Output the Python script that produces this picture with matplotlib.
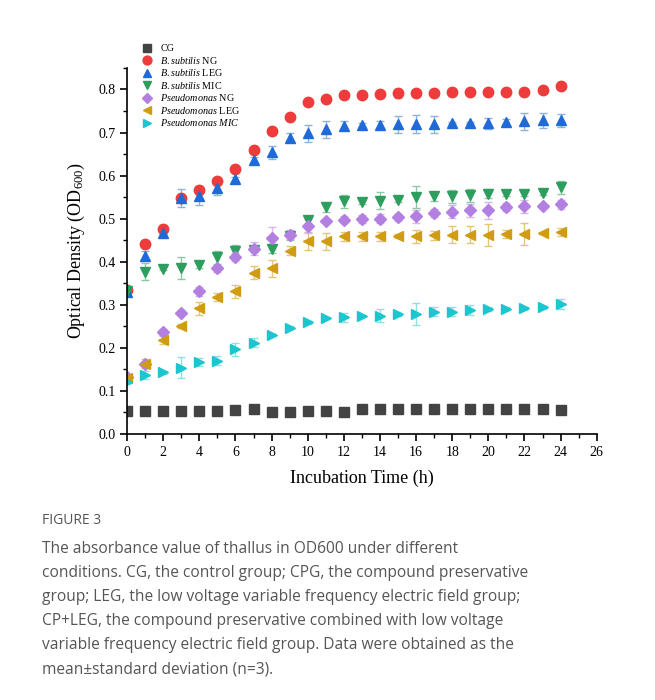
import numpy as np
import matplotlib
matplotlib.use("Agg")
import matplotlib.pyplot as plt
from matplotlib.ticker import MultipleLocator

plt.rcParams['font.family'] = ['Liberation Serif', 'DejaVu Serif']
plt.rcParams['mathtext.fontset'] = 'custom'
plt.rcParams['mathtext.rm'] = 'Liberation Serif'
plt.rcParams['mathtext.it'] = 'Liberation Serif:italic'

hours = np.arange(0, 25)

cg = [0.054, 0.054, 0.054, 0.054, 0.054, 0.054, 0.055, 0.057, 0.050, 0.050,
      0.054, 0.054, 0.051, 0.057, 0.057, 0.057, 0.057, 0.057, 0.057, 0.057,
      0.057, 0.057, 0.057, 0.057, 0.056]
bs_ng = [0.335, 0.440, 0.475, 0.549, 0.566, 0.588, 0.616, 0.660, 0.704, 0.736,
         0.770, 0.777, 0.788, 0.788, 0.789, 0.791, 0.791, 0.791, 0.793, 0.794,
         0.795, 0.795, 0.795, 0.798, 0.809]
bs_leg = [0.330, 0.414, 0.467, 0.548, 0.552, 0.571, 0.592, 0.637, 0.654, 0.688,
          0.698, 0.707, 0.716, 0.717, 0.717, 0.719, 0.720, 0.719, 0.722, 0.722,
          0.721, 0.725, 0.726, 0.728, 0.728]
bs_mic = [0.333, 0.377, 0.384, 0.385, 0.393, 0.410, 0.424, 0.428, 0.430, 0.460,
          0.497, 0.526, 0.540, 0.539, 0.542, 0.544, 0.550, 0.552, 0.552, 0.554,
          0.558, 0.558, 0.558, 0.560, 0.573]
ps_ng = [0.133, 0.162, 0.236, 0.282, 0.331, 0.385, 0.411, 0.430, 0.455, 0.463,
         0.484, 0.495, 0.498, 0.499, 0.500, 0.503, 0.505, 0.513, 0.516, 0.519,
         0.519, 0.527, 0.529, 0.530, 0.533]
ps_leg = [0.130, 0.163, 0.219, 0.250, 0.292, 0.318, 0.331, 0.374, 0.385, 0.426,
          0.447, 0.447, 0.459, 0.459, 0.459, 0.459, 0.459, 0.461, 0.463, 0.463,
          0.462, 0.464, 0.464, 0.467, 0.469]
ps_mic = [0.120, 0.137, 0.143, 0.154, 0.167, 0.170, 0.197, 0.212, 0.230, 0.247,
          0.259, 0.269, 0.271, 0.274, 0.275, 0.278, 0.279, 0.284, 0.284, 0.288,
          0.290, 0.291, 0.292, 0.294, 0.302]

cg_err = [0.002] * 25
bs_ng_err = [0.005, 0.005, 0.010, 0.005, 0.005, 0.005, 0.005, 0.005, 0.005, 0.005,
             0.005, 0.005, 0.005, 0.005, 0.005, 0.010, 0.005, 0.005, 0.005, 0.005,
             0.005, 0.005, 0.005, 0.005, 0.005]
bs_leg_err = [0.005, 0.010, 0.010, 0.020, 0.020, 0.015, 0.005, 0.005, 0.015, 0.010,
              0.020, 0.020, 0.010, 0.005, 0.010, 0.020, 0.020, 0.020, 0.003, 0.003,
              0.012, 0.007, 0.020, 0.018, 0.015]
bs_mic_err = [0.005, 0.020, 0.003, 0.025, 0.008, 0.015, 0.015, 0.005, 0.010, 0.010,
              0.010, 0.010, 0.015, 0.005, 0.020, 0.005, 0.025, 0.010, 0.015, 0.015,
              0.010, 0.005, 0.005, 0.005, 0.015]
ps_ng_err = [0.005, 0.005, 0.008, 0.005, 0.010, 0.008, 0.010, 0.015, 0.025, 0.010,
             0.015, 0.005, 0.008, 0.010, 0.010, 0.008, 0.015, 0.010, 0.015, 0.015,
             0.020, 0.010, 0.015, 0.005, 0.010]
ps_leg_err = [0.005, 0.010, 0.010, 0.005, 0.015, 0.010, 0.015, 0.015, 0.020, 0.010,
              0.020, 0.020, 0.010, 0.010, 0.010, 0.005, 0.015, 0.010, 0.020, 0.020,
              0.025, 0.010, 0.025, 0.003, 0.010]
ps_mic_err = [0.005, 0.010, 0.003, 0.025, 0.010, 0.010, 0.015, 0.010, 0.003, 0.003,
              0.003, 0.003, 0.010, 0.003, 0.015, 0.003, 0.025, 0.010, 0.010, 0.012,
              0.005, 0.003, 0.003, 0.003, 0.012]

labels = ['CG', r'$\it{B.subtilis}$ NG', r'$\it{B.subtilis}$ LEG', r'$\it{B.subtilis}$ MIC',
          r'$\it{Pseudomonas}$ NG', r'$\it{Pseudomonas}$ LEG', r'$\it{Pseudomonas\ MIC}$']
series = [cg, bs_ng, bs_leg, bs_mic, ps_ng, ps_leg, ps_mic]
errors = [cg_err, bs_ng_err, bs_leg_err, bs_mic_err, ps_ng_err, ps_leg_err, ps_mic_err]
markers = ['s', 'o', '^', 'v', 'D', '<', '>']
sizes = [6.5, 7.5, 7.5, 7.5, 6.5, 7.5, 7.5]
colors = ['#434343', '#ee3b3b', '#1f6ad6', '#2e9e5e', '#b37fe0', '#d09c12', '#1cc6cf']
ecolors = ['#9a9a9a', '#f2a0a0', '#8fb2dd', '#8ccaa5', '#d3b6ee', '#e4c57a', '#8fe0e4']

fig = plt.figure(figsize=(6.55, 7.0), dpi=100)
ax = fig.add_axes([0.194, 0.380, 0.717, 0.523])

for y, e, m, s, c, ec, lab in zip(series, errors, markers, sizes, colors, ecolors, labels):
    ax.errorbar(hours, y, yerr=e, fmt=m, ms=s, color=c, mec=c, ecolor=ec,
                elinewidth=1.0, capsize=3, capthick=1.0, label=lab)

ax.set_xlim(0, 26)
ax.set_ylim(0, 0.85)
ax.xaxis.set_major_locator(MultipleLocator(2))
ax.xaxis.set_minor_locator(MultipleLocator(1))
ax.yaxis.set_major_locator(MultipleLocator(0.1))
ax.yaxis.set_minor_locator(MultipleLocator(0.05))
ax.yaxis.set_major_formatter(plt.FormatStrFormatter('%.1f'))
for side in ['top', 'right']:
    ax.spines[side].set_visible(False)
for side in ['left', 'bottom']:
    ax.spines[side].set_linewidth(1.2)
ax.tick_params(which='major', direction='out', length=5, width=1.2, labelsize=10)
ax.tick_params(which='minor', direction='out', length=3, width=1.0)
ax.set_xlabel('Incubation Time (h)', fontsize=13, labelpad=8)
ax.set_ylabel(r'Optical Density (OD$_{600}$)', fontsize=13, labelpad=8)

handles, labs = ax.get_legend_handles_labels()
handles = [h[0] for h in handles]
ax.legend(handles, labs, loc='upper left', bbox_to_anchor=(133 / 655, 1 - 40 / 700),
          bbox_transform=fig.transFigure, frameon=False, fontsize=7.3,
          handletextpad=0.3, labelspacing=0.15, borderaxespad=0, markerscale=0.85)

cap_font = ['Open Sans', 'DejaVu Sans']
fig.text(42 / 655, 1 - 521 / 700, 'FIGURE 3', family=cap_font, fontsize=10,
         color='#555555', va='center')
caption_lines = ["The absorbance value of thallus in OD600 under different",
                 "conditions. CG, the control group; CPG, the compound preservative",
                 "group; LEG, the low voltage variable frequency electric field group;",
                 "CP+LEG, the compound preservative combined with low voltage",
                 "variable frequency electric field group. Data were obtained as the",
                 "mean\u00b1standard deviation (n=3)."]
for i, line in enumerate(caption_lines):
    fig.text(42 / 655, 1 - (549 + 24 * i) / 700, line, family=cap_font, fontsize=11.2,
             color='#555555', va='center')

fig.savefig('out.png', dpi=100)
